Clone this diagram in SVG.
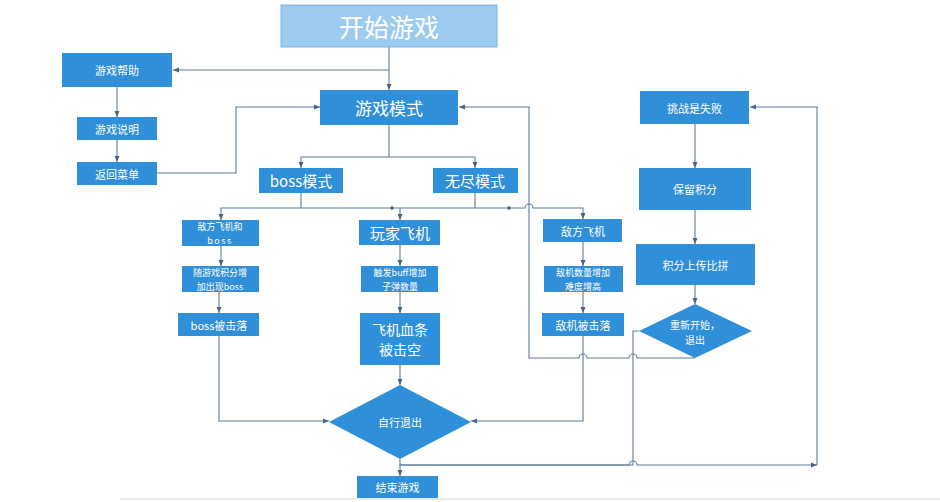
<svg xmlns="http://www.w3.org/2000/svg" width="940" height="502" viewBox="0 0 940 502">
<defs>
<marker id="ah" viewBox="0 0 6 6" refX="6" refY="3" markerWidth="6" markerHeight="6" orient="auto" markerUnits="userSpaceOnUse">
<path d="M0,0.5 L6,3 L0,5.5 Z" fill="#4a6582"/>
</marker>
<style>
.b{fill:#2f8fd8;}
.t{fill:#ffffff;font-family:"Noto Sans CJK SC","Liberation Sans",sans-serif;text-anchor:middle;dominant-baseline:central;}
.s{font-size:11px;}
.d{font-size:9px;}
.m{font-size:15px;}
.c{fill:none;stroke:#5f7c99;stroke-width:1.1;}
.a{marker-end:url(#ah);}
</style>
</defs>
<rect width="940" height="502" fill="#ffffff"/>
<line x1="120" y1="499" x2="940" y2="499" stroke="#d6d6d6" stroke-width="1"/>

<g id="connectors">
<path class="c a" d="M389,47 V90"/>
<path class="c a" d="M389,70 H173"/>
<path class="c a" d="M117,87 V117"/>
<path class="c a" d="M117,140 V162"/>
<path class="c a" d="M157,173 H236 V107 H320"/>
<path class="c" d="M389,125 V157"/>
<path class="c a" d="M389,157 H301 V168"/>
<path class="c a" d="M389,157 H475 V168"/>
<path class="c" d="M301,193 V208"/>
<path class="c" d="M475,193 V208"/>
<path class="c a" d="M301,208 H221 V220"/>
<path class="c" d="M301,208 H475"/>
<path class="c a" d="M400,208 V220"/>
<path class="c a" d="M475,208 H525 A4,4 0 0 1 533,208 H583 V219"/>
<circle cx="392" cy="208" r="1.8" fill="#4a6582"/>
<circle cx="509" cy="208" r="1.8" fill="#4a6582"/>
<path class="c a" d="M221,246 V266"/>
<path class="c a" d="M219,292 V313"/>
<path class="c a" d="M400,245 V266"/>
<path class="c a" d="M400,292 V313"/>
<path class="c a" d="M400,365 V385"/>
<path class="c a" d="M583,242 V266"/>
<path class="c a" d="M583,292 V313"/>
<path class="c a" d="M219,336 V421 H329"/>
<path class="c a" d="M583,336 V421 H471"/>
<path class="c a" d="M695,124 V168"/>
<path class="c a" d="M695,210 V244"/>
<path class="c a" d="M695,285 V304"/>
<path class="c a" d="M695,358 H637 A4,4 0 0 0 629,358 H587 A4,4 0 0 0 579,358 H529 V107 H459"/>
<path class="c a" d="M639,331 H633 V465 H400 V476"/>
<path class="c a" d="M400,459 V465 H629 A4,4 0 0 1 637,465 H817"/>
<path class="c a" d="M817,465 V107 H750"/>
</g>

<g id="start">
<rect x="281" y="5" width="216" height="42" fill="#9dcbf0" stroke="#7fb3de" stroke-width="1"/>
<text class="t" x="389" y="26" font-size="25">开始游戏</text>
</g>
<g id="help">
<rect class="b" x="62" y="53" width="110" height="34"/>
<text class="t s" x="117" y="70">游戏帮助</text>
</g>
<g id="explain">
<rect class="b" x="77" y="117" width="80" height="23"/>
<text class="t s" x="117" y="128.5">游戏说明</text>
</g>
<g id="back">
<rect class="b" x="77" y="162" width="80" height="23"/>
<text class="t s" x="117" y="173.5">返回菜单</text>
</g>
<g id="mode">
<rect class="b" x="320" y="90" width="138" height="35"/>
<text class="t" x="389" y="107.5" font-size="17">游戏模式</text>
</g>
<g id="boss-mode">
<rect class="b" x="259" y="168" width="84" height="25"/>
<text class="t m" x="301" y="180.5">boss模式</text>
</g>
<g id="endless-mode">
<rect class="b" x="433" y="168" width="85" height="25"/>
<text class="t m" x="475" y="180.5">无尽模式</text>
</g>
<g id="enemy-boss">
<rect class="b" x="182" y="220" width="77" height="26"/>
<text class="t d" x="220" y="226.5">敌方飞机和<tspan x="220" dy="13.2" letter-spacing="1.5">boss</tspan></text>
</g>
<g id="boss-appear">
<rect class="b" x="182" y="266" width="77" height="26"/>
<text class="t d" x="220" y="272.5">随游戏积分增<tspan x="220" dy="13.2">加出现boss</tspan></text>
</g>
<g id="boss-down">
<rect class="b" x="178" y="313" width="81" height="23"/>
<text class="t s" x="219" y="324.5">boss被击落</text>
</g>
<g id="player">
<rect class="b" x="359" y="220" width="81" height="25"/>
<text class="t m" x="400" y="232.5">玩家飞机</text>
</g>
<g id="buff">
<rect class="b" x="361" y="266" width="77" height="26"/>
<text class="t d" x="400" y="272.5">触发buff增加<tspan x="400" dy="13.2">子弹数量</tspan></text>
</g>
<g id="hp-empty">
<rect class="b" x="360" y="313" width="80" height="52"/>
<text class="t" x="400" y="328.5" font-size="14">飞机血条<tspan x="400" dy="20.5">被击空</tspan></text>
</g>
<g id="enemy">
<rect class="b" x="543" y="219" width="79" height="23"/>
<text class="t s" x="583" y="230.5">敌方飞机</text>
</g>
<g id="enemy-more">
<rect class="b" x="544" y="266" width="79" height="26"/>
<text class="t d" x="583" y="272.5">敌机数量增加<tspan x="583" dy="13.2">难度增高</tspan></text>
</g>
<g id="enemy-down">
<rect class="b" x="542" y="313" width="82" height="23"/>
<text class="t s" x="583" y="324.5">敌机被击落</text>
</g>
<g id="quit-self">
<polygon class="b" points="400,385 471,422 400,459 329,422"/>
<text class="t s" x="400" y="422">自行退出</text>
</g>
<g id="end">
<rect class="b" x="357" y="476" width="81" height="22"/>
<text class="t s" x="397.5" y="487">结束游戏</text>
</g>
<g id="fail">
<rect class="b" x="640" y="91" width="109" height="33"/>
<text class="t s" x="694.5" y="107.5">挑战是失败</text>
</g>
<g id="keep-score">
<rect class="b" x="639" y="168" width="112" height="42"/>
<text class="t s" x="695" y="189">保留积分</text>
</g>
<g id="upload">
<rect class="b" x="636" y="244" width="119" height="41"/>
<text class="t s" x="695.5" y="264.5">积分上传比拼</text>
</g>
<g id="restart">
<polygon class="b" points="695,304 752,331 695,358 639,331"/>
<text class="t" x="695" y="324" font-size="10">重新开始，<tspan x="695" dy="14.6">退出</tspan></text>
</g>
</svg>
